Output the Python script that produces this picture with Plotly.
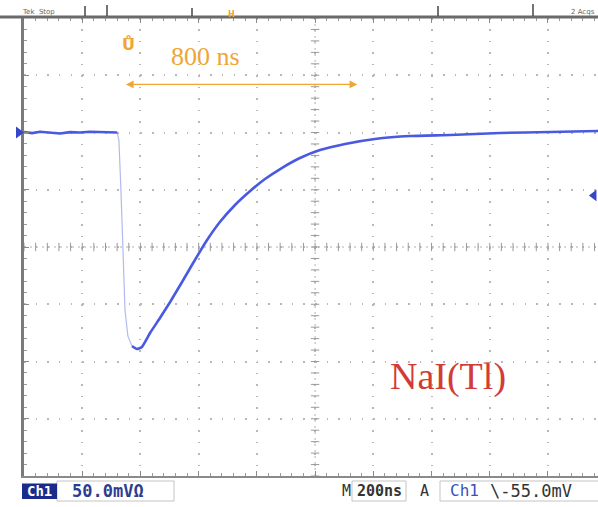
import plotly.graph_objects as go

# ---- Waveform samples: time in ns from left edge of screen, amplitude in mV relative to ground ----
time_ns = [0, 28, 55, 90, 124, 158, 192, 226, 261, 292, 320,
           326, 333, 340, 347, 357, 371,
           388, 405, 433, 467, 502, 543, 577, 629, 673, 725, 777, 828, 880,
           948, 1017, 1103, 1206, 1326, 1464, 1636, 1807, 1972]
signal_mv = [0.4, -0.5, 0.6, -0.4, -0.9, 0.3, 0.0, 0.7, 0.4, -0.3, 0.0,
             -6.6, -50.2, -111.4, -155.2, -177.9, -186.6,
             -189.1, -187.3, -175.1, -162.0, -148.0, -130.6, -115.7, -93.9, -78.2, -63.3, -51.1, -40.6, -31.9,
             -22.3, -15.3, -10.0, -5.7, -3.1, -2.2, -0.4, 0.4, 1.3]

# scope settings shown in the status bar
volts_per_div = 50.0      # mV
time_per_div = 200        # ns
trigger_level_mv = -55.0
ground_mv = 0.0
pulse_width_ns = 800
pulse_arrow_start_ns = 345

# ---- geometry ----
W, H = 598, 507
L, R, T, B = 24, 0, 18, 31
PW, PH = W - L - R, H - T - B
X_MAX = 1972
Y_MIN, Y_MAX = -300, 100
X_CENTER = 5 * time_per_div
Y_CENTER = (Y_MIN + Y_MAX) / 2


def px(x):
    return (x - L) / PW


def py(y):
    return (H - B - y) / PH


def mv_to_pix(v):
    return T + (Y_MAX - v) * PH / (Y_MAX - Y_MIN)


blue = "#4a5ae0"
orange = "#f0a534"
mono = "DejaVu Sans Mono"
serif = "Liberation Serif"

fig = go.Figure()

# fast leading edge is faint on screen; baseline and tail are bright
edge_start, edge_end = 10, 17
fig.add_trace(go.Scatter(x=time_ns[:edge_start + 1], y=signal_mv[:edge_start + 1], mode="lines",
                         line=dict(color=blue, width=2.6), hoverinfo="skip"))
fig.add_trace(go.Scatter(x=time_ns[edge_start:edge_end + 1], y=signal_mv[edge_start:edge_end + 1], mode="lines",
                         line=dict(color="rgba(125,140,230,0.6)", width=1.2), hoverinfo="skip"))
fig.add_trace(go.Scatter(x=time_ns[edge_end - 1:], y=signal_mv[edge_end - 1:], mode="lines",
                         line=dict(color=blue, width=2.6, shape="spline", smoothing=0.4), hoverinfo="skip"))

# centre graticule tick marks
minor_t = [i * time_per_div / 5 for i in range(0, int(X_MAX / (time_per_div / 5)) + 1)]
minor_v = [Y_MIN + i * volts_per_div / 5 for i in range(0, 41)]
fig.add_trace(go.Scatter(x=minor_t, y=[Y_CENTER] * len(minor_t), mode="markers",
                         marker=dict(symbol="line-ns", size=6, line=dict(color="#9a9a9a", width=1)),
                         hoverinfo="skip", cliponaxis=False))
fig.add_trace(go.Scatter(x=[X_CENTER] * len(minor_v), y=minor_v, mode="markers",
                         marker=dict(symbol="line-ew", size=6, line=dict(color="#9a9a9a", width=1)),
                         hoverinfo="skip"))

# trigger level marker on the right edge
fig.add_trace(go.Scatter(x=[1958], y=[trigger_level_mv], mode="markers",
                         marker=dict(symbol="triangle-left", size=10, color="#3546c8"),
                         cliponaxis=False, hoverinfo="skip"))

shapes = []
# ground marker on the left edge
gy = mv_to_pix(ground_mv)
shapes.append(dict(type="path", xref="paper", yref="paper",
                   path=f"M {px(16)} {py(gy - 6)} L {px(16)} {py(gy + 6)} L {px(24)} {py(gy)} Z",
                   fillcolor="#3546c8", line=dict(width=0)))
# centre cross lines
shapes.append(dict(type="line", xref="x", yref="y", x0=0, x1=X_MAX, y0=Y_CENTER, y1=Y_CENTER,
                   line=dict(color="#b0b0b0", width=1, dash="2px,4px"), layer="below"))
shapes.append(dict(type="line", xref="x", yref="y", x0=X_CENTER, x1=X_CENTER, y0=Y_MIN, y1=Y_MAX,
                   line=dict(color="#b0b0b0", width=1, dash="2px,4px"), layer="below"))
# heavy top ruler
shapes.append(dict(type="line", xref="paper", yref="paper", x0=px(0), x1=px(W), y0=py(T - 1), y1=py(T - 1),
                   line=dict(color="#6a6a6a", width=3)))
# record markers along top ruler
for mx, y0 in [(85, 6), (107, 5), (192, 8), (438, 6), (533, 4)]:
    shapes.append(dict(type="line", xref="paper", yref="paper", x0=px(mx), x1=px(mx), y0=py(y0), y1=py(T - 2),
                       line=dict(color="#444", width=1.5)))
# status bar boxes
shapes.append(dict(type="rect", xref="paper", yref="paper", x0=px(57), x1=px(174), y0=py(481), y1=py(501),
                   line=dict(color="#c4c4c4", width=1)))
shapes.append(dict(type="rect", xref="paper", yref="paper", x0=px(22), x1=px(57), y0=py(483.5), y1=py(499),
                   fillcolor="#1b2b8c", line=dict(width=0)))
shapes.append(dict(type="rect", xref="paper", yref="paper", x0=px(352), x1=px(406), y0=py(481), y1=py(501),
                   line=dict(color="#c4c4c4", width=1)))
shapes.append(dict(type="rect", xref="paper", yref="paper", x0=px(440), x1=px(600), y0=py(481), y1=py(501),
                   line=dict(color="#c4c4c4", width=1)))

annotations = []
# measurement arrow and label
annotations.append(dict(x=pulse_arrow_start_ns + pulse_width_ns, y=42, ax=pulse_arrow_start_ns, ay=42,
                        xref="x", yref="y", axref="x", ayref="y", text="", showarrow=True,
                        arrowhead=2, startarrowhead=2, arrowside="end+start", arrowsize=1.1,
                        startarrowsize=1.1, arrowwidth=1.4, arrowcolor=orange))
annotations.append(dict(x=625, y=66, xref="x", yref="y", text=f"{pulse_width_ns} ns", showarrow=False,
                        font=dict(family=serif, size=26, color=orange)))
annotations.append(dict(x=1458, y=-213, xref="x", yref="y", text="NaI(Tl)", showarrow=False,
                        font=dict(family=serif, size=38, color="#d23b36")))

# trigger position marker
annotations.append(dict(x=px(120), y=py(33), xref="paper", yref="paper", text="<b>Ů</b>", showarrow=False,
                        font=dict(family="DejaVu Sans", size=16, color=orange)))
annotations.append(dict(x=px(231), y=py(8), xref="paper", yref="paper", text="<b>H</b>", showarrow=False,
                        font=dict(family="DejaVu Sans", size=8, color=orange)))

# header text
annotations.append(dict(x=px(20), y=py(6), xref="paper", yref="paper", text="Tek  Stop", showarrow=False,
                        xanchor="left", font=dict(family="DejaVu Sans", size=7, color="#666")))
annotations.append(dict(x=px(597), y=py(6), xref="paper", yref="paper", text="2 Acqs", showarrow=False,
                        xanchor="right", font=dict(family="DejaVu Sans", size=7, color="#666")))

# status bar
def status(x, text, color, size=16, anchor="left"):
    annotations.append(dict(x=px(x), y=py(491), xref="paper", yref="paper", text=text, showarrow=False,
                            xanchor=anchor, yanchor="middle",
                            font=dict(family=mono, size=size, color=color)))

status(39.5, "<b>Ch1</b>", "white", size=14, anchor="center")
status(70, f"<b>{volts_per_div:.1f}mVΩ</b>", "#2d3d8f", size=17)
status(340, "M", "#333", size=15)
status(355, f"<b>{time_per_div}ns</b>", "#333", size=15)
status(418, "A", "#333", size=15)
status(448, "Ch1", "#3b4fc0", size=16)
status(488, f"\\{trigger_level_mv:.1f}mV", "#333", size=17)

fig.update_layout(
    width=W, height=H,
    margin=dict(l=L, r=R, t=T, b=B, pad=0),
    paper_bgcolor="white", plot_bgcolor="white",
    showlegend=False,
    shapes=shapes, annotations=annotations,
    xaxis=dict(range=[0, X_MAX], showticklabels=False, zeroline=False,
               tick0=0, dtick=time_per_div, showgrid=True, gridcolor="#b8b8b8", gridwidth=1.5,
               griddash="1.5px,9.95px",
               ticks="inside", ticklen=5, tickcolor="#8a8a8a", tickwidth=1,
               minor=dict(dtick=time_per_div / 5, ticks="inside", ticklen=3, tickcolor="#9a9a9a", showgrid=False),
               showline=True, linecolor="#8a8a8a", linewidth=1.5, mirror="ticks"),
    yaxis=dict(range=[Y_MIN, Y_MAX], showticklabels=False, zeroline=False,
               tick0=Y_MIN, dtick=volts_per_div, showgrid=True, gridcolor="#b8b8b8", gridwidth=1.5,
               griddash="1.5px,10.14px",
               ticks="inside", ticklen=5, tickcolor="#8a8a8a", tickwidth=1,
               minor=dict(dtick=volts_per_div / 5, ticks="inside", ticklen=3, tickcolor="#9a9a9a", showgrid=False),
               showline=True, linecolor="#7a7a7a", linewidth=2.5, mirror=False),
)

fig.write_html("out.html")
